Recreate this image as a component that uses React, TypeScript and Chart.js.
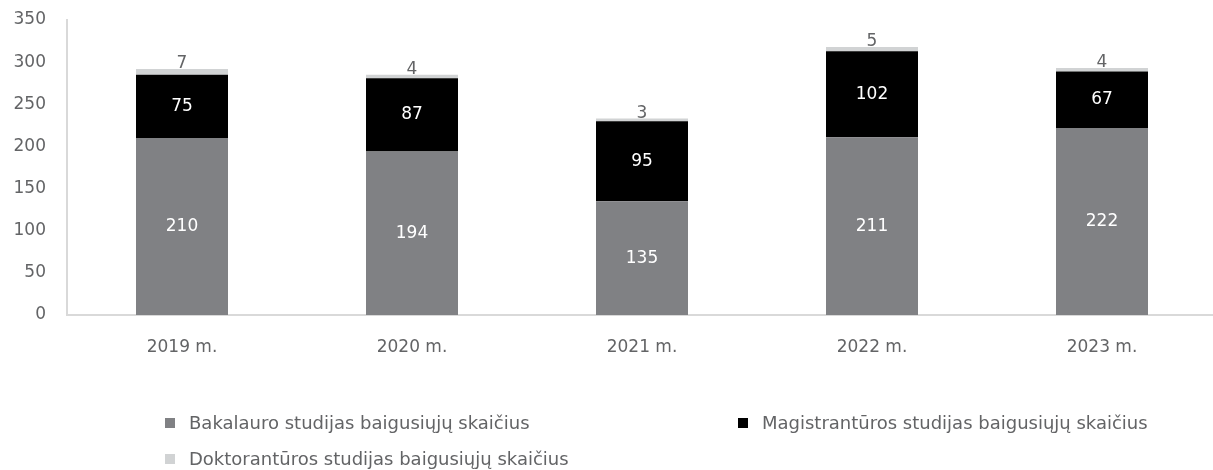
import React, { useEffect, useRef } from "react";
import { Chart, registerables } from "chart.js";

Chart.register(...registerables);

const categories = ["2019 m.", "2020 m.", "2021 m.", "2022 m.", "2023 m."];
const bakalauro = [210, 194, 135, 211, 222];
const magistranturos = [75, 87, 95, 102, 67];
const doktoranturos = [7, 4, 3, 5, 4];
const yTicks = [0, 50, 100, 150, 200, 250, 300, 350];

const seriesNames = [
  "Bakalauro studijas baigusiųjų skaičius",
  "Magistrantūros studijas baigusiųjų skaičius",
  "Doktorantūros studijas baigusiųjų skaičius",
];
const seriesColors = ["#808184", "#000000", "#d1d3d4"];
const textColor = "#636466";
const fontFamily = "'DejaVu Sans', sans-serif";

const labelPlugin = {
  id: "barLabels",
  afterDatasetsDraw(chart: any) {
    const ctx = chart.ctx;
    ctx.save();
    ctx.font = `17px ${fontFamily}`;
    ctx.textAlign = "center";
    chart.data.datasets.forEach((ds: any, di: number) => {
      const meta = chart.getDatasetMeta(di);
      meta.data.forEach((el: any, i: number) => {
        const v = ds.data[i];
        if (di < 2) {
          ctx.fillStyle = "#ffffff";
          ctx.textBaseline = "middle";
          ctx.fillText(String(v), el.x, (el.y + el.base) / 2);
        } else {
          ctx.fillStyle = textColor;
          ctx.textBaseline = "alphabetic";
          ctx.fillText(String(v), el.x, el.y - 1);
        }
      });
    });
    ctx.restore();
  },
};

export default function App() {
  const ref = useRef<HTMLCanvasElement>(null);
  useEffect(() => {
    if (!ref.current) return;
    const chart = new Chart(ref.current, {
      type: "bar",
      data: {
        labels: categories,
        datasets: [bakalauro, magistranturos, doktoranturos].map((d, i) => ({
          label: seriesNames[i],
          data: d,
          backgroundColor: seriesColors[i],
          categoryPercentage: 0.4,
          barPercentage: 1,
          borderWidth: 0,
        })),
      },
      options: {
        responsive: false,
        animation: false,
        devicePixelRatio: 1,
        layout: { padding: { top: 20, left: 0, right: 0, bottom: 0 } },
        plugins: {
          legend: { display: false },
          tooltip: { enabled: false },
        },
        scales: {
          x: {
            stacked: true,
            grid: { display: false, drawTicks: false },
            border: { display: true, color: "#d9d9d9", width: 2 },
            ticks: {
              color: textColor,
              font: { size: 17, family: fontFamily },
              padding: 22,
            },
            afterFit: (s: any) => {
              s.height = 155;
              s.paddingLeft = 0;
              s.paddingRight = 0;
            },
          },
          y: {
            stacked: true,
            min: 0,
            max: 350,
            grid: { display: false, drawTicks: false },
            border: { display: true, color: "#d9d9d9", width: 2 },
            afterBuildTicks: (s: any) => {
              s.ticks = yTicks.map((v) => ({ value: v }));
            },
            ticks: {
              color: textColor,
              font: { size: 17, family: fontFamily },
              padding: 21,
            },
            afterFit: (s: any) => {
              s.width = 67;
              s.paddingTop = 0;
              s.paddingBottom = 0;
            },
          },
        },
      },
      plugins: [labelPlugin],
    });
    return () => chart.destroy();
  }, []);

  const legendItem = (i: number, left: number, top: number) => (
    <div
      key={i}
      style={{
        position: "absolute",
        left,
        top,
        display: "flex",
        alignItems: "center",
        fontFamily,
        fontSize: 18,
        color: textColor,
        whiteSpace: "nowrap",
        lineHeight: "20px",
      }}
    >
      <span
        style={{
          display: "inline-block",
          width: 10,
          height: 10,
          background: seriesColors[i],
          marginRight: 14,
        }}
      />
      {seriesNames[i]}
    </div>
  );

  return (
    <div
      style={{
        position: "absolute",
        left: 0,
        top: 0,
        width: 1213,
        height: 470,
        overflow: "hidden",
        background: "#ffffff",
      }}
    >
      <canvas ref={ref} width={1217} height={470} style={{ display: "block" }} />
      {legendItem(0, 165, 413)}
      {legendItem(1, 738, 413)}
      {legendItem(2, 165, 449)}
    </div>
  );
}
